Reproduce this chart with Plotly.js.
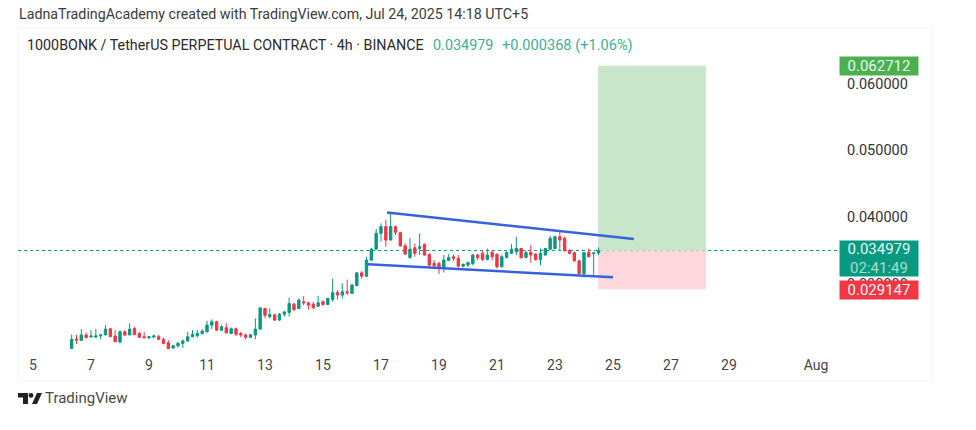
<!DOCTYPE html>
<html><head><meta charset="utf-8">
<script src="https://cdn.plot.ly/plotly-3.0.1.min.js"></script>
<style>html,body{margin:0;padding:0;background:#fff;overflow:hidden}#c{width:976px;height:430px;position:relative}
#logo{position:absolute;left:18px;top:393px}</style></head>
<body><div id="c"></div>
<svg id="logo" width="24" height="12" viewBox="0 0 24 12"><path d="M0 0h10v11H5V4.6H0z M19 0h5l-5 11h-5z" fill="#222"/><circle cx="13" cy="2.4" r="2.4" fill="#222"/></svg>
<script>
const times=["2025-07-06 08:00","2025-07-06 12:00","2025-07-06 16:00","2025-07-06 20:00","2025-07-07 00:00","2025-07-07 04:00","2025-07-07 08:00","2025-07-07 12:00","2025-07-07 16:00","2025-07-07 20:00",
"2025-07-08 00:00","2025-07-08 04:00","2025-07-08 08:00","2025-07-08 12:00","2025-07-08 16:00","2025-07-08 20:00","2025-07-09 00:00","2025-07-09 04:00","2025-07-09 08:00","2025-07-09 12:00",
"2025-07-09 16:00","2025-07-09 20:00","2025-07-10 00:00","2025-07-10 04:00","2025-07-10 08:00","2025-07-10 12:00","2025-07-10 16:00","2025-07-10 20:00","2025-07-11 00:00","2025-07-11 04:00",
"2025-07-11 08:00","2025-07-11 12:00","2025-07-11 16:00","2025-07-11 20:00","2025-07-12 00:00","2025-07-12 04:00","2025-07-12 08:00","2025-07-12 12:00","2025-07-12 16:00","2025-07-12 20:00",
"2025-07-13 00:00","2025-07-13 04:00","2025-07-13 08:00","2025-07-13 12:00","2025-07-13 16:00","2025-07-13 20:00","2025-07-14 00:00","2025-07-14 04:00","2025-07-14 08:00","2025-07-14 12:00",
"2025-07-14 16:00","2025-07-14 20:00","2025-07-15 00:00","2025-07-15 04:00","2025-07-15 08:00","2025-07-15 12:00","2025-07-15 16:00","2025-07-15 20:00","2025-07-16 00:00","2025-07-16 04:00",
"2025-07-16 08:00","2025-07-16 12:00","2025-07-16 16:00","2025-07-16 20:00","2025-07-17 00:00","2025-07-17 04:00","2025-07-17 08:00","2025-07-17 12:00","2025-07-17 16:00","2025-07-17 20:00",
"2025-07-18 00:00","2025-07-18 04:00","2025-07-18 08:00","2025-07-18 12:00","2025-07-18 16:00","2025-07-18 20:00","2025-07-19 00:00","2025-07-19 04:00","2025-07-19 08:00","2025-07-19 12:00",
"2025-07-19 16:00","2025-07-19 20:00","2025-07-20 00:00","2025-07-20 04:00","2025-07-20 08:00","2025-07-20 12:00","2025-07-20 16:00","2025-07-20 20:00","2025-07-21 00:00","2025-07-21 04:00",
"2025-07-21 08:00","2025-07-21 12:00","2025-07-21 16:00","2025-07-21 20:00","2025-07-22 00:00","2025-07-22 04:00","2025-07-22 08:00","2025-07-22 12:00","2025-07-22 16:00","2025-07-22 20:00",
"2025-07-23 00:00","2025-07-23 04:00","2025-07-23 08:00","2025-07-23 12:00","2025-07-23 16:00","2025-07-23 20:00","2025-07-24 00:00","2025-07-24 04:00","2025-07-24 08:00","2025-07-24 12:00"];
const opens=[20271,21686,21484,22292,21988,21988,22140,22292,23221,22140,
21231,22766,22292,23271,22514,22039,21888,21988,22039,21635,
21130,20322,20675,21029,21382,22039,22190,22514,22766,23777,
24281,23019,23373,22514,23221,22514,22291,21938,22291,23171,
26261,25039,25302,24534,25403,25656,26918,26262,27272,27120,
26918,26615,27272,26867,27625,28686,28282,28786,28534,29695,
31615,31110,33534,35171,37545,38554,36535,38554,37646,35676,
33888,35373,35272,35878,34393,33029,33029,32373,33484,34040,
33787,32625,32777,32979,34292,34544,33635,34695,34392,32524,
33938,34544,34796,35271,33938,34695,34443,33635,34291,35150,
35271,37039,36787,34948,34645,33433,31514,34695,34544,34611];
const highs=[22362,22292,23170,22666,23019,23170,22413,23777,23271,23019,
23019,23019,24029,23524,22766,22766,22039,22362,22292,21888,
21534,20776,21282,21635,22766,23019,23019,23170,24433,24635,
24433,23777,24029,23423,23423,22766,22514,22413,24787,26413,
26362,26261,25504,25605,25908,27878,27120,27776,28130,27272,
27272,28181,27524,27878,30757,29039,30049,30605,29897,31666,
31918,34039,35373,38201,39059,39565,40726,38706,37797,36030,
36888,36030,37545,36030,34545,33535,33282,34292,34443,34393,
34292,33030,33282,34443,34443,35000,35272,35049,34544,34291,
34796,35928,37039,35372,34948,35776,34544,35271,35372,37190,
37190,37948,37039,35150,34796,33534,34796,35271,34700,35423];
const lows=[20271,20928,21484,21686,21938,21837,21635,22292,22039,21282,
21029,22140,22292,22292,21888,21787,21686,21787,21534,20928,
20171,20271,20373,20373,21282,21938,21888,22362,22666,23170,
22918,22918,22514,22514,22140,21938,21635,21888,21635,23120,
24787,24787,24382,24382,25039,25039,25858,26161,26766,26110,
26161,26514,26615,26766,27272,27625,27776,28282,28433,29645,
30757,31009,33383,35151,36282,35525,36535,37292,35525,34292,
33787,34040,34292,34191,32525,32525,31414,31666,33383,33383,
32424,32424,32525,32777,33535,33400,33535,33534,32271,32423,
33786,34443,34291,33786,33786,33130,33433,32776,34190,35049,
35170,35049,34796,34392,33282,31362,30908,33938,31261,34291];
const closes=[21635,21534,22292,21938,22140,22140,22292,23170,22039,21282,
22766,22292,23170,22362,21938,21888,22039,22140,21635,21029,
20271,20675,21029,21382,22039,22362,22514,22867,23777,24281,
23019,23524,22615,23221,22413,22291,21938,22312,23171,26362,
25252,25352,24534,25403,25757,27019,26110,27524,27120,26766,
26413,27120,26867,27776,28635,28282,28786,28635,29796,31615,
31110,33534,35171,37545,38554,36535,38554,37696,35676,34443,
35171,34545,35525,34292,32777,32676,32272,33535,33939,33787,
32625,32878,33181,34292,33888,33635,34291,34039,32524,34039,
34695,35150,35271,33888,34645,34291,33635,34544,35271,36787,
37039,36534,34948,34544,33433,31514,34645,34039,34611,34979];
const priceScale=1e-6;
const upperX=["2025-07-17 05:00","2025-07-25 17:20"], upperY=[0.04068,0.0367];
const lowerX=["2025-07-16 13:12","2025-07-25 00:00"], lowerY=[0.0329,0.03095];
const targetPrice=0.062712, lastPrice=0.034979, stopPrice=0.029147;
const boxX=["2025-07-24 11:40","2025-07-28 05:00"];
const xTickVals=["2025-07-05","2025-07-07","2025-07-09","2025-07-11","2025-07-13","2025-07-15","2025-07-17","2025-07-19","2025-07-21","2025-07-23","2025-07-25","2025-07-27","2025-07-29","2025-08-01"];
const xTickText=["5","7","9","11","13","15","17","19","21","23","25","27","29","Aug"];
const yTickVals=[0.03,0.04,0.05,0.06];
const yTickText=["0.030000","0.040000","0.050000","0.060000"];

const L=18,R=838,T=28,B=352;
const X=p=>(p-L)/(R-L), Y=p=>(B-p)/(B-T);
const font="Roboto, 'Liberation Sans', sans-serif";
const mul=a=>a.map(v=>v*priceScale);
const UP="#089981", DN="#f23645", BLUE="#3762dc";
const traces=[
 {type:"candlestick",x:times,open:mul(opens),high:mul(highs),low:mul(lows),close:mul(closes),
  increasing:{line:{color:UP,width:1},fillcolor:UP},decreasing:{line:{color:DN,width:1},fillcolor:DN},whiskerwidth:0,showlegend:false,hoverinfo:"skip"},
 {type:"scatter",mode:"lines",x:upperX,y:upperY,line:{color:BLUE,width:2.5},showlegend:false,hoverinfo:"skip"},
 {type:"scatter",mode:"lines",x:lowerX,y:lowerY,line:{color:BLUE,width:2.5},showlegend:false,hoverinfo:"skip"}
];
const txt=(text,px,py,size,color,extra)=>Object.assign({xref:"paper",yref:"paper",x:X(px),y:Y(py),text,showarrow:false,xanchor:"left",yanchor:"middle",font:{family:font,size,color}},extra||{});
const badge=(text,py,h,bg)=>({xref:"paper",yref:"paper",x:X(839),y:Y(py),text,showarrow:false,xanchor:"left",yanchor:"middle",width:78,height:h,bgcolor:bg,align:"center",borderpad:0,font:{family:font,size:15,color:"#e6f7f1"}});
const layout={width:976,height:430,margin:{l:L,r:976-R,t:T,b:430-B},paper_bgcolor:"#fff",plot_bgcolor:"#fff",showlegend:false,
 xaxis:{type:"date",range:["2025-07-04 11:35","2025-08-01 18:14"],rangeslider:{visible:false},tickmode:"array",tickvals:xTickVals,ticktext:xTickText,showgrid:false,zeroline:false,showline:false,ticks:"",tickangle:0,ticklabelstandoff:3,tickfont:{family:font,size:14,color:"#444"}},
 yaxis:{side:"right",range:[0.019736,0.06837],tickmode:"array",tickvals:yTickVals,ticktext:yTickText,showgrid:false,zeroline:false,showline:false,ticks:"",ticklabelstandoff:8,tickfont:{family:font,size:14.5,color:"#333"}},
 shapes:[
  {type:"rect",xref:"paper",yref:"paper",x0:0,x1:X(932),y0:Y(381),y1:1,line:{color:"#f1f3f6",width:1},layer:"below"},
  {type:"rect",xref:"x",yref:"y",x0:boxX[0],x1:boxX[1],y0:lastPrice,y1:targetPrice,fillcolor:"#c8e6c9",line:{width:0},layer:"below"},
  {type:"rect",xref:"x",yref:"y",x0:boxX[0],x1:boxX[1],y0:stopPrice,y1:lastPrice,fillcolor:"#fcd7dc",line:{width:0},layer:"below"},
  {type:"line",xref:"paper",yref:"y",x0:0,x1:1,y0:lastPrice,y1:lastPrice,line:{color:UP,width:1,dash:"dot"},layer:"below"}
 ],
 annotations:[
  txt("LadnaTradingAcademy created with TradingView.com, Jul 24, 2025 14:18 UTC+5",17,14,14.25,"#3c3c3c"),
  txt("1000BONK / TetherUS PERPETUAL CONTRACT · 4h · BINANCE",25,45,14.3,"#2a2a2a"),
  txt("0.034979",431,45,14.4,"#3fae97"),
  txt("+0.000368 (+1.06%)",500,45,14.6,"#3fae97"),
  txt("TradingView",43,398,15,"#4a4a4a"),
  badge("0.062712",66,18,"#4caf50"),
  badge("0.034979<br><span style='color:#a8dccd'>02:41:49</span>",258,35,"#089981"),
  badge("0.029147",290,18,DN)
 ]};
Plotly.newPlot("c",traces,layout,{staticPlot:true,displayModeBar:false});
</script></body></html>
